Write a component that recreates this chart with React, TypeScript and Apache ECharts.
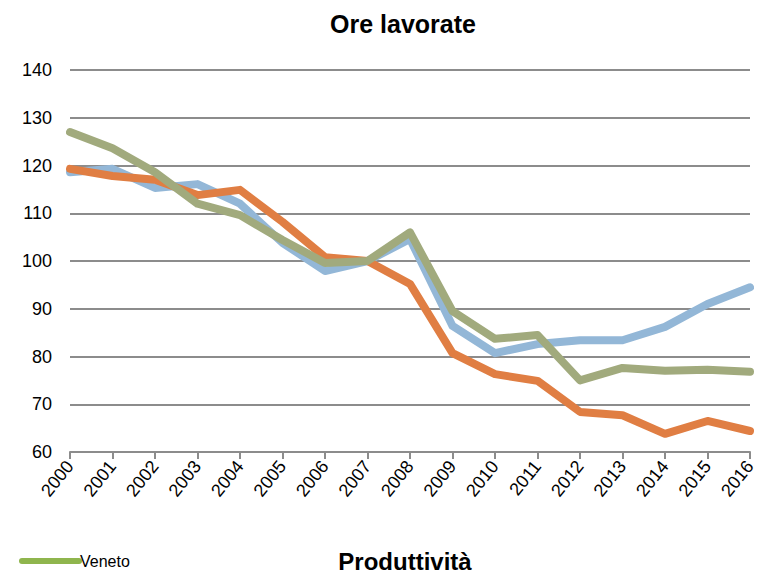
import React, { useEffect, useRef } from "react";
import * as echarts from "echarts";

const years = ["2000","2001","2002","2003","2004","2005","2006","2007","2008","2009","2010","2011","2012","2013","2014","2015","2016"];
const blueValues = [118.6,119.3,115.3,116.1,112,103.8,97.9,100,104.6,86.4,80.7,82.6,83.4,83.4,86.2,91,94.5];
const orangeValues = [119.3,117.8,117,113.8,114.9,108.2,100.8,100,95.2,80.7,76.3,74.9,68.4,67.7,63.8,66.5,64.4];
const greenValues = [127,123.6,118.6,112,109.6,104.4,99.6,100,106,89.5,83.7,84.5,75,77.6,77,77.2,76.8];
const seriesNames = ["Serie A", "Serie B", "Serie C"];
const titleText = "Ore lavorate";
const nextTitleText = "Produttività";
const legendText = "Veneto";

const FONT = "'Liberation Sans Narrow', 'Liberation Sans', Arial, sans-serif";
const BOLD_FONT = "'Liberation Sans', Arial, sans-serif";

export default function App() {
  const ref = useRef<HTMLDivElement>(null);
  useEffect(() => {
    if (!ref.current) return;
    const chart = echarts.init(ref.current, null, { renderer: "svg" });
    const mk = (name: string, data: number[], color: string) => ({
      name,
      type: "line",
      data,
      symbol: "none",
      lineStyle: { width: 8, color, cap: "round", join: "round" },
      itemStyle: { color },
    });
    chart.setOption({
      animation: false,
      backgroundColor: "#ffffff",
      title: {
        text: titleText,
        left: 398,
        top: 6,
        textAlign: "center",
        textStyle: { fontFamily: BOLD_FONT, fontWeight: "bold", fontSize: 25, color: "#000" },
      },
      grid: { left: 70, right: 17, top: 70, bottom: 122, containLabel: false },
      xAxis: {
        type: "category",
        data: years,
        boundaryGap: false,
        axisLine: { lineStyle: { color: "#8c8c8c", width: 2 } },
        axisTick: { show: true, length: 7, inside: false, lineStyle: { color: "#8c8c8c", width: 2 }, alignWithLabel: true },
        axisLabel: { rotate: 51, margin: 11, fontFamily: FONT, fontSize: 18, color: "#000", interval: 0 },
        splitLine: { show: false },
      },
      yAxis: {
        type: "value",
        min: 60,
        max: 140,
        interval: 10,
        axisLine: { show: false },
        axisTick: { show: false },
        axisLabel: { margin: 18, fontFamily: FONT, fontSize: 18, color: "#000" },
        splitLine: { lineStyle: { color: "#8c8c8c", width: 2 } },
      },
      series: [
        mk(seriesNames[0], blueValues, "#93b7d7"),
        mk(seriesNames[1], orangeValues, "#e07e43"),
        mk(seriesNames[2], greenValues, "#a1aa7d"),
      ],
      graphic: [
        {
          type: "line",
          shape: { x1: 22, y1: 561, x2: 79, y2: 561 },
          style: { stroke: "#8fb54d", lineWidth: 6, lineCap: "round" },
        },
        {
          type: "text",
          x: 80,
          y: 561,
          style: { text: legendText, fontFamily: FONT, fontSize: 16, fill: "#000", verticalAlign: "middle", align: "left" },
        },
        {
          type: "text",
          x: 405,
          y: 573,
          style: { text: nextTitleText, fontFamily: BOLD_FONT, fontWeight: "bold", fontSize: 24, fill: "#000", align: "center", verticalAlign: "bottom" },
        },
      ],
    });
    return () => chart.dispose();
  }, []);
  return <div ref={ref} style={{ position: "absolute", left: 0, top: 0, width: 767, height: 574 }} />;
}
